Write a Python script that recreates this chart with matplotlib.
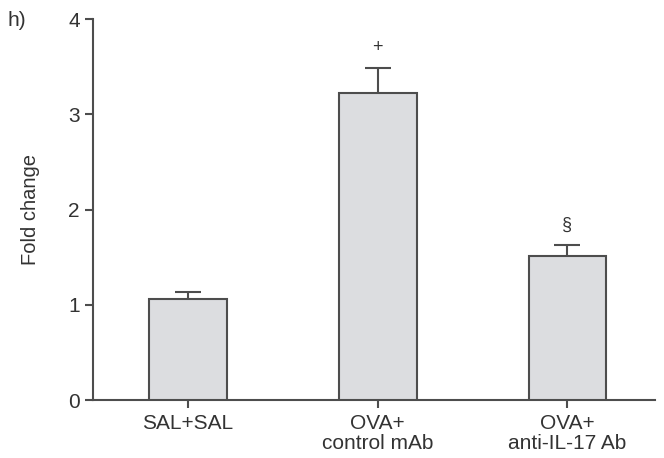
import matplotlib
matplotlib.use("Agg")
import matplotlib.pyplot as plt
import numpy as np

# values
groups = ["SAL+SAL", "OVA+\ncontrol mAb", "OVA+\nanti-IL-17 Ab"]
fold_change = [1.06, 3.22, 1.515]
sem = [0.07, 0.27, 0.11]
marks = ["", "+", "§"]

plt.rcParams["font.family"] = ["Liberation Sans", "DejaVu Sans"]
ink = "#333333"
edge = "#4d4d4d"

fig = plt.figure(figsize=(6.64, 4.58), dpi=100)
ax = fig.add_axes([0.140, 0.1266, 0.846, 0.8319])

x = np.arange(len(groups))
ax.errorbar(x, fold_change, yerr=sem, fmt="none", ecolor=edge, elinewidth=1.5,
            capsize=9.4, capthick=1.5, zorder=2)
ax.bar(x, fold_change, width=0.41, color="#dcdde0", edgecolor=edge, linewidth=1.5, zorder=3)

for xi, v, e, m in zip(x, fold_change, sem, marks):
    if m:
        ax.text(xi, v + e + 0.12, m, ha="center", va="bottom", fontsize=13, color=ink)

ax.set_xlim(-0.5, 2.46)
ax.set_ylim(0, 4)
ax.set_yticks([0, 1, 2, 3, 4])
ax.set_xticks(x)
ax.set_xticklabels(groups, fontsize=15, color=ink, linespacing=1.05)
ax.tick_params(axis="y", labelsize=15, labelcolor=ink, color=edge, width=1.5, length=6, direction="out")
ax.tick_params(axis="x", color=edge, width=1.5, length=6, direction="out", pad=4)

for s in ["top", "right"]:
    ax.spines[s].set_visible(False)
for s in ["left", "bottom"]:
    ax.spines[s].set_color(edge)
    ax.spines[s].set_linewidth(1.5)

ax.set_ylabel("Fold change", fontsize=14.5, color=ink, labelpad=20)
fig.text(0.012, 0.955, "h)", fontsize=15, color=ink, ha="left", va="center")

fig.savefig("out.png", dpi=100)
